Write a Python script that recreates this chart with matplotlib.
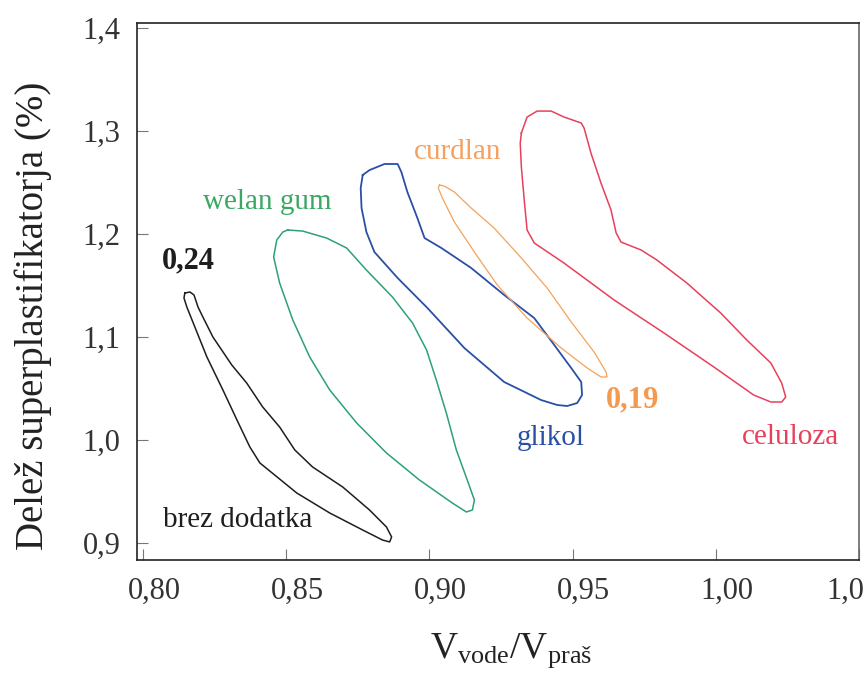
import matplotlib
matplotlib.use("Agg")
import matplotlib.pyplot as plt
import matplotlib.transforms as mtransforms

plt.rcParams["font.family"] = ["Liberation Serif", "DejaVu Serif"]
plt.rcParams["mathtext.fontset"] = "custom"
plt.rcParams["mathtext.rm"] = "Liberation Serif"

# obrisi podrocij (V_vode/V_pras, delez superplastifikatorja)
brez_x = [0.8146, 0.8164, 0.8178, 0.8192, 0.8209, 0.8244, 0.8310, 0.8362, 0.8418, 0.8477,
          0.8530, 0.8592, 0.8697, 0.8791, 0.8850, 0.8868, 0.8861, 0.8836, 0.8767, 0.8652,
          0.8537, 0.8408, 0.8373, 0.8328, 0.8279, 0.8223, 0.8181, 0.8153, 0.8143]
brez_y = [1.1427, 1.1437, 1.1408, 1.1291, 1.1194, 1.1000, 1.0728, 1.0553, 1.0320, 1.0126,
          0.9903, 0.9738, 0.9544, 0.9320, 0.9155, 0.9058, 0.9010, 0.9029, 0.9126, 0.9291,
          0.9485, 0.9777, 0.9932, 1.0194, 1.0485, 1.0806, 1.1097, 1.1291, 1.1379]

welan_x = [0.8505, 0.8557, 0.8641, 0.8711, 0.8780, 0.8871, 0.8941, 0.8990, 0.9024, 0.9059,
           0.9094, 0.9132, 0.9157, 0.9150, 0.9129, 0.9080, 0.8965, 0.8850, 0.8746, 0.8652,
           0.8582, 0.8523, 0.8477, 0.8456, 0.8467, 0.8488]
welan_y = [1.2039, 1.2029, 1.1961, 1.1864, 1.1650, 1.1388, 1.1136, 1.0874, 1.0583, 1.0262,
           0.9903, 0.9612, 0.9417, 0.9320, 0.9301, 0.9388, 0.9612, 0.9874, 1.0165, 1.0485,
           1.0806, 1.1165, 1.1524, 1.1777, 1.1942, 1.2019]

glikol_x = [0.8767, 0.8791, 0.8843, 0.8889, 0.8902, 0.8923, 0.8958, 0.8983, 0.9042, 0.9146,
            0.9261, 0.9366, 0.9436, 0.9495, 0.9530, 0.9533, 0.9516, 0.9481, 0.9446, 0.9390,
            0.9261, 0.9122, 0.8993, 0.8889, 0.8808, 0.8780, 0.8763, 0.8760]
glikol_y = [1.2573, 1.2621, 1.2680, 1.2680, 1.2602, 1.2408, 1.2155, 1.1961, 1.1864, 1.1670,
            1.1408, 1.1184, 1.0922, 1.0699, 1.0563, 1.0437, 1.0359, 1.0330, 1.0340, 1.0388,
            1.0563, 1.0893, 1.1282, 1.1573, 1.1825, 1.2019, 1.2252, 1.2447]

curdlan_x = [0.9035, 0.9052, 0.9087, 0.9146, 0.9226, 0.9321, 0.9411, 0.9495, 0.9575, 0.9617,
             0.9620, 0.9599, 0.9551, 0.9460, 0.9341, 0.9237, 0.9157, 0.9087, 0.9045, 0.9031]
curdlan_y = [1.2476, 1.2466, 1.2408, 1.2252, 1.2058, 1.1767, 1.1476, 1.1146, 1.0854, 1.0660,
             1.0612, 1.0612, 1.0699, 1.0893, 1.1184, 1.1505, 1.1825, 1.2117, 1.2350, 1.2447]

celuloza_x = [0.9321, 0.9341, 0.9376, 0.9425, 0.9470, 0.9530, 0.9540, 0.9564, 0.9599, 0.9634,
              0.9652, 0.9669, 0.9739, 0.9794, 0.9899, 1.0017, 1.0108, 1.0192, 1.0230, 1.0244,
              1.0230, 1.0192, 1.0132, 0.9993, 0.9819, 0.9645, 0.9470, 0.9366, 0.9341, 0.9331,
              0.9321, 0.9317]
celuloza_y = [1.2981, 1.3136, 1.3194, 1.3194, 1.3136, 1.3078, 1.3029, 1.2786, 1.2495, 1.2233,
              1.2010, 1.1922, 1.1845, 1.1748, 1.1524, 1.1233, 1.0971, 1.0748, 1.0553, 1.0417,
              1.0369, 1.0369, 1.0437, 1.0709, 1.1039, 1.1359, 1.1718, 1.1913, 1.2039, 1.2330,
              1.2650, 1.2883]

xticks = [0.80, 0.85, 0.90, 0.95, 1.00, 1.05]
xlabels = ["0,80", "0,85", "0,90", "0,95", "1,00", "1,05"]
yticks = [0.9, 1.0, 1.1, 1.2, 1.3, 1.4]
ylabels = ["0,9", "1,0", "1,1", "1,2", "1,3", "1,4"]

fig = plt.figure(figsize=(8.65, 6.79), dpi=100)
ax = fig.add_axes([0.1584, 0.1753, 0.8347, 0.7908])


def closed(xs, ys):
    return xs + xs[:1], ys + ys[:1]


ax.plot(*closed(brez_x, brez_y), color="#1e1e1e", lw=1.1)
ax.plot(*closed(welan_x, welan_y), color="#2e9f7c", lw=1.1)
ax.plot(*closed(glikol_x, glikol_y), color="#2a50a6", lw=1.3)
ax.plot(*closed(curdlan_x, curdlan_y), color="#f4a25a", lw=0.9)
ax.plot(*closed(celuloza_x, celuloza_y), color="#e8405c", lw=1.1)

fs = 21
ax.text(0.8157, 1.1738, "0,24", fontsize=22, fontweight="bold", color="#1e1e1e", ha="center", va="center")
ax.text(0.8432, 1.2311, "welan gum", fontsize=fs, color="#3aa862", ha="center", va="center")
ax.text(0.9098, 1.2796, "curdlan", fontsize=fs, color="#f4a060", ha="center", va="center")
ax.text(0.8331, 0.9223, "brez dodatka", fontsize=fs, color="#1e1e1e", ha="center", va="center")
ax.text(0.9425, 1.0019, "glikol", fontsize=fs, color="#2a50a6", ha="center", va="center")
ax.text(0.9711, 1.0388, "0,19", fontsize=22, fontweight="bold", color="#f49a50", ha="center", va="center")
ax.text(1.0261, 1.0029, "celuloza", fontsize=fs, color="#e8405c", ha="center", va="center")

ax.set_xlim(0.7979, 1.0495)
ax.set_ylim(0.8835, 1.4049)
ax.set_xticks(xticks)
ax.set_xticklabels(xlabels)
ax.set_yticks(yticks)
ax.set_yticklabels(ylabels)
ax.tick_params(direction="in", length=8, width=0.8, color="#777777", labelsize=22, pad=12,
               labelcolor="#333333")
# oznake na x osi so v originalu rahlo zamaknjene v desno
xlabs = ax.get_xticklabels()
for lab in xlabs[:-1]:
    lab.set_transform(lab.get_transform() + mtransforms.ScaledTranslation(0.11, 0, fig.dpi_scale_trans))
xlabs[-1].set_transform(xlabs[-1].get_transform() + mtransforms.ScaledTranslation(-0.06, 0, fig.dpi_scale_trans))

for s in ax.spines.values():
    s.set_linewidth(1.2)
    s.set_color("#222222")
ax.spines["right"].set_color("#666666")

ax.set_ylabel("Delež superplastifikatorja (%)", fontsize=28, color="#222222")
ax.yaxis.set_label_coords(-0.118, 0.455)
ax.set_xlabel(r"$\mathregular{V_{vode}/V_{praš}}$", fontsize=27, color="#222222")
ax.xaxis.set_label_coords(0.518, -0.132)

fig.savefig("out.png", dpi=100)
